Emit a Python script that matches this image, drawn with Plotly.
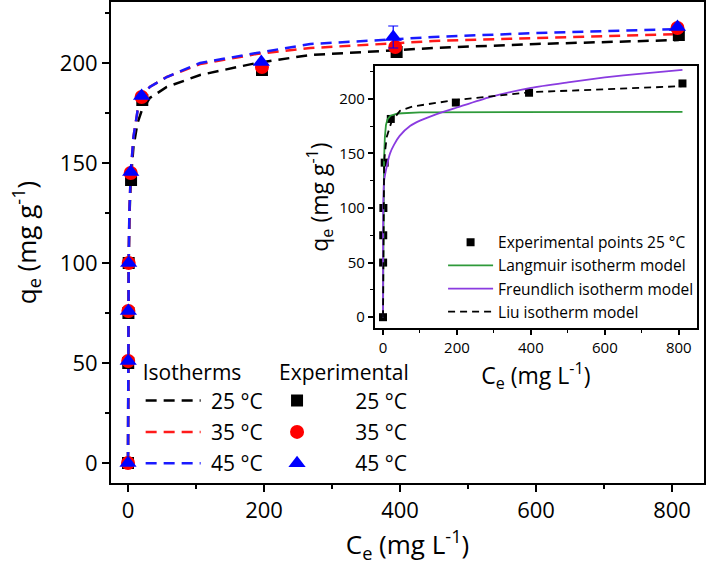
import plotly.graph_objects as go

# ---------------- data ----------------
# experimental points (main plot)
ce25 = [0, 0.3, 0.6, 1.0, 4.5, 21, 197, 395, 810]
qe25 = [0, 50, 75, 100, 141.5, 181.5, 196.5, 205.5, 214]
ce35 = [0, 0.3, 0.6, 1.0, 4, 20, 197, 393, 808]
qe35 = [0, 51, 76, 100, 145, 183, 198, 208, 217.5]
ce45 = [0, 0.3, 0.6, 1.0, 4, 20, 196, 390, 808]
qe45 = [0, 51, 76, 100, 145.5, 183.5, 200.5, 213, 218]
err45 = [0, 0, 0, 0, 0, 0, 0, 5.5, 0]

# isotherm curves (Liu model, main plot)
cfit = [0, 0.2, 0.5, 1, 2, 4, 8, 14, 20, 32, 57, 106, 189, 268, 400, 449, 600, 810]
qfit25 = [0, 38, 72, 98, 122, 141, 158, 170, 176, 182.5, 188, 194, 200, 204, 206.5, 207.5, 209.5, 211.5]
qfit35 = [0, 40, 75, 100, 125, 145, 163, 176, 183, 188, 193, 199.5, 204.5, 207.5, 210, 211, 212.5, 214.5]
qfit45 = [0, 40, 75, 100, 125, 145, 163, 176, 183, 188, 193, 200, 205, 209.5, 212, 213, 215, 217]

# inset model curves (25 °C)
c_lang = [0, 0.3, 0.8, 2.7, 5, 8, 12, 20, 40, 100, 810]
q_lang = [0, 50, 100, 144, 165, 176, 181, 184.5, 186.5, 187.5, 188]
c_freu = [0, 0.1, 0.5, 3, 10, 19, 30, 45, 73, 100, 145, 200, 289, 400, 500, 600, 700, 810]
q_freu = [0, 50, 100, 125, 138, 150, 158, 166, 175, 180, 186, 192, 201.5, 210, 215, 219.5, 223, 226.5]
c_liu = [0, 0.5, 1, 3, 5, 10, 23, 46, 81, 200, 400, 600, 810]
q_liu = [0, 50, 100, 140, 150, 165, 179, 189, 193, 199, 206, 209, 211.5]

x_ticks = [0, 200, 400, 600, 800]
y_ticks = [0, 50, 100, 150, 200]
temps = ["25 °C", "35 °C", "45 °C"]

FONT = "Open Sans"
NB = "\u00a0"
fig = go.Figure()

# main isotherm curves
for i, (q, col) in enumerate([(qfit25, "black"), (qfit35, "#ff1a1a"), (qfit45, "#1a1aff")]):
    fig.add_trace(go.Scatter(x=cfit, y=q, mode="lines",
                             line=dict(color=col, width=2.5, dash="11px,7px"),
                             name=NB * 1 + temps[i], legend="legend2", legendgroup="iso%d" % i,
                             xaxis="x", yaxis="y"))

# main experimental markers
fig.add_trace(go.Scatter(x=ce25, y=qe25, mode="markers",
                         marker=dict(symbol="square", size=12, color="black"),
                         name=NB * 7 + temps[0], legend="legend3", legendgroup="exp0"))
fig.add_trace(go.Scatter(x=ce35, y=qe35, mode="markers",
                         marker=dict(symbol="circle", size=14, color="#ff0000"),
                         name=NB * 7 + temps[1], legend="legend3", legendgroup="exp1"))
fig.add_trace(go.Scatter(x=ce45, y=qe45, mode="markers",
                         marker=dict(symbol="triangle-up", size=15, color="#0000ff"),
                         error_y=dict(type="data", array=err45, color="#0000ff", thickness=1.2, width=5),
                         name=NB * 7 + temps[2], legend="legend3", legendgroup="exp2"))

# inset
fig.add_trace(go.Scatter(x=ce25, y=qe25, mode="markers", xaxis="x2", yaxis="y2",
                         marker=dict(symbol="square", size=8, color="black"),
                         name="Experimental points 25 °C", legend="legend", legendgroup="in0"))
fig.add_trace(go.Scatter(x=c_lang, y=q_lang, mode="lines", xaxis="x2", yaxis="y2",
                         line=dict(color="#2e9a3a", width=1.8),
                         name="Langmuir isotherm model", legend="legend", legendgroup="in1"))
fig.add_trace(go.Scatter(x=c_freu, y=q_freu, mode="lines", xaxis="x2", yaxis="y2",
                         line=dict(color="#8a3be0", width=1.8, shape="spline", smoothing=0.6),
                         name="Freundlich isotherm model", legend="legend", legendgroup="in2"))
fig.add_trace(go.Scatter(x=c_liu, y=q_liu, mode="lines", xaxis="x2", yaxis="y2",
                         line=dict(color="black", width=1.8, dash="7px,5px"),
                         name="Liu isotherm model", legend="legend", legendgroup="in3"))

axis_common = dict(showline=True, linewidth=2, linecolor="black", mirror=True,
                   ticks="outside", tickwidth=1.5, tickcolor="black",
                   showgrid=False, zeroline=False, automargin=False)

fig.update_layout(
    width=708, height=570,
    margin=dict(l=111, r=4, t=2, b=87),
    paper_bgcolor="white", plot_bgcolor="white",
    font=dict(family=FONT, color="black"),
    xaxis=dict(**axis_common, range=[-25, 847], tickvals=x_ticks, ticklen=7,
               minor=dict(dtick=100, tick0=0, ticks="outside", ticklen=4, tickwidth=1.5, tickcolor="black"),
               tickfont=dict(size=22),
               title=dict(text="C<sub>e</sub> (mg L<sup>-1</sup>)", font=dict(size=26), standoff=2)),
    yaxis=dict(**axis_common, range=[-10, 230.5], tickvals=y_ticks, ticklen=7,
               minor=dict(dtick=25, tick0=0, ticks="outside", ticklen=4, tickwidth=1.5, tickcolor="black"),
               tickfont=dict(size=22),
               title=dict(text="q<sub>e</sub> (mg g<sup>-1</sup>)", font=dict(size=26), standoff=16)),
    xaxis2=dict(**axis_common, domain=[0.445, 0.988], anchor="y2", range=[-22, 849],
                tickvals=x_ticks, ticklen=5,
                minor=dict(dtick=100, tick0=0, ticks="outside", ticklen=3, tickwidth=1.2, tickcolor="black"),
                tickfont=dict(size=15),
                title=dict(text="C<sub>e</sub> (mg L<sup>-1</sup>)", font=dict(size=23), standoff=2)),
    yaxis2=dict(**axis_common, domain=[0.322, 0.867], anchor="x2", range=[-10, 230],
                tickvals=y_ticks, ticklen=5,
                minor=dict(dtick=25, tick0=0, ticks="outside", ticklen=3, tickwidth=1.2, tickcolor="black"),
                tickfont=dict(size=15),
                title=dict(text="q<sub>e</sub> (mg g<sup>-1</sup>)", font=dict(size=23), standoff=4)),
    legend=dict(x=0.56, y=0.535, xanchor="left", yanchor="top", bgcolor="rgba(0,0,0,0)",
                font=dict(size=15.5), tracegroupgap=0, itemwidth=45),
    legend2=dict(x=0.05, y=0.27, xanchor="left", yanchor="top", bgcolor="rgba(0,0,0,0)",
                 font=dict(size=21), tracegroupgap=1, itemwidth=55,
                 title=dict(text="Isotherms", font=dict(size=21))),
    legend3=dict(x=0.28, y=0.27, xanchor="left", yanchor="top", bgcolor="rgba(0,0,0,0)",
                 font=dict(size=21), tracegroupgap=1, itemwidth=30,
                 title=dict(text="Experimental", font=dict(size=21))),
)

fig.write_html("out.html", config={"displayModeBar": False},
               post_script="document.body.style.margin='0';")
